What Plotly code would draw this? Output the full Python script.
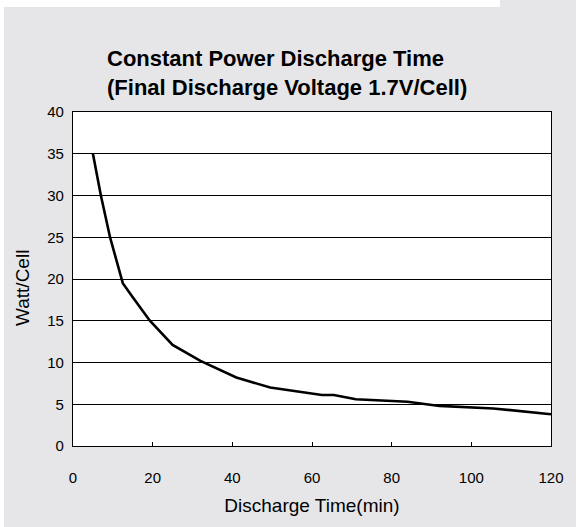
import plotly.graph_objects as go

# Data
time_min = [5, 7, 9.3, 12.5, 15, 19.3, 25, 32, 41, 49.5, 62.5, 65.5, 71, 84, 92, 105.5, 120]
watt_per_cell = [35, 30, 25, 19.5, 17.8, 15, 12.1, 10.2, 8.2, 7.0, 6.1, 6.1, 5.6, 5.3, 4.8, 4.5, 3.8]

x_ticks = [0, 20, 40, 60, 80, 100, 120]
y_ticks = [0, 5, 10, 15, 20, 25, 30, 35, 40]

title_lines = ["Constant Power Discharge Time", "(Final Discharge Voltage 1.7V/Cell)"]
x_title = "Discharge Time(min)"
y_title = "Watt/Cell"

FONT = "Arial, 'Liberation Sans', sans-serif"
GRAY = "#e6e6e8"

W, H = 576, 527
L, R, T, B = 73, 25, 112, 81
pw, ph = W - L - R, H - T - B


def px_x(p):
    return (p - L) / pw


def px_y(p):
    return (H - B - p) / ph


fig = go.Figure()
fig.add_trace(go.Scatter(
    x=time_min, y=watt_per_cell, mode="lines",
    line=dict(color="black", width=2.6),
    hoverinfo="x+y", showlegend=False,
))

fig.update_layout(
    width=W, height=H,
    margin=dict(l=L, r=R, t=T, b=B, pad=0),
    paper_bgcolor=GRAY,
    plot_bgcolor="white",
    font=dict(family=FONT, color="black"),
    showlegend=False,
    xaxis=dict(
        range=[0, 120], tickvals=x_ticks, ticktext=[str(v) for v in x_ticks],
        showgrid=False, zeroline=False,
        showline=True, linecolor="black", linewidth=1.2, mirror=True,
        ticks="inside", ticklen=4, tickcolor="black", tickwidth=1,
        tickfont=dict(size=15, family=FONT),
        ticklabelstandoff=18,
        title=dict(text=x_title, font=dict(size=19, family=FONT), standoff=13),
        fixedrange=True,
    ),
    yaxis=dict(
        range=[0, 40], tickvals=y_ticks, ticktext=[str(v) for v in y_ticks],
        showgrid=True, gridcolor="black", gridwidth=1,
        zeroline=False,
        showline=True, linecolor="black", linewidth=1.2, mirror=True,
        ticks="", tickfont=dict(size=15, family=FONT),
        ticklabelstandoff=5,
        fixedrange=True,
    ),
    annotations=[
        dict(
            text="<b>" + "<br>".join(title_lines) + "</b>",
            xref="paper", yref="paper",
            x=px_x(105), y=px_y(73), xanchor="left", yanchor="middle",
            align="left", showarrow=False,
            font=dict(size=22, family=FONT, color="black"),
        ),
        dict(
            text=y_title, textangle=-90,
            xref="paper", yref="paper",
            x=px_x(22), y=px_y(288), xanchor="center", yanchor="middle",
            showarrow=False,
            font=dict(size=19, family=FONT, color="black"),
        ),
    ],
    shapes=[
        # thin white page margins at the left and top-left of the gray panel
        dict(type="rect", xref="paper", yref="paper", layer="below",
             x0=px_x(-5), x1=px_x(4), y0=px_y(H + 5), y1=px_y(-5),
             fillcolor="white", line=dict(width=0)),
        dict(type="rect", xref="paper", yref="paper", layer="below",
             x0=px_x(-5), x1=px_x(500), y0=px_y(7), y1=px_y(-5),
             fillcolor="white", line=dict(width=0)),
    ],
)

fig.write_html(
    "out.html",
    config={"displayModeBar": False},
    post_script=(
        "document.body.style.margin='0px';"
        "document.body.style.overflow='hidden';"
        "document.body.style.background='" + GRAY + "';"
    ),
)
